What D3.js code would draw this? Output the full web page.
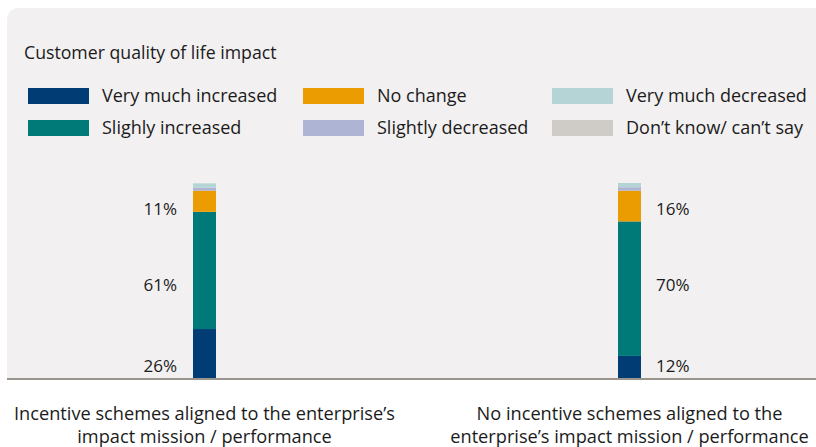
<!DOCTYPE html>
<html>
<head>
<meta charset="utf-8">
<script src="https://cdn.jsdelivr.net/npm/d3@7"></script>
<style>
  html, body { margin: 0; padding: 0; background: #ffffff; }
  svg { display: block; font-family: "Open Sans", "Lato", sans-serif; }
</style>
</head>
<body>
<svg id="chart" width="816" height="447"></svg>
<script>
// ---- data ----
const title = "Customer quality of life impact";
const categories = [
  ["Incentive schemes aligned to the enterprise\u2019s", "impact mission / performance"],
  ["No incentive schemes aligned to the", "enterprise\u2019s impact mission / performance"]
];
const seriesNames = ["Very much increased", "Slighly increased", "No change", "Slightly decreased", "Very much decreased", "Don\u2019t know/ can\u2019t say"];
const seriesColors = ["#023c74", "#007a78", "#eb9c00", "#aeb4d3", "#b4d4d6", "#cfccc8"];
const veryMuchIncreased = [26, 12];
const slightlyIncreased = [61, 70];
const noChange = [11, 16];
const slightlyDecreased = [1.6, 1.8];
const veryMuchDecreased = [2.2, 2.2];
const dontKnow = [0, 0];
const labelledSeries = [0, 1, 2];

// ---- drawing ----
const svg = d3.select("#chart");
const W = 816, H = 447;
const baseY = 379, topY = 183;

const seriesValues = [veryMuchIncreased, slightlyIncreased, noChange, slightlyDecreased, veryMuchDecreased, dontKnow];
const table = categories.map((c, i) => {
  const row = { key: i };
  seriesNames.forEach((s, j) => row[s] = seriesValues[j][i]);
  return row;
});
const stacked = d3.stack().keys(seriesNames)(table);

const y = d3.scaleLinear().domain([0, 102]).range([baseY, topY]);
const x = d3.scalePoint().domain(d3.range(categories.length)).range([204.5, 629.5]);
const barW = 23;
const color = d3.scaleOrdinal().domain(seriesNames).range(seriesColors);

// panel
const px = 7, py = 8, r = 13, pr = 830;
svg.append("path")
  .attr("d", `M${px},${baseY} L${px},${py + r} Q${px},${py} ${px + r},${py} L${pr},${py} L${pr},${baseY} Z`)
  .attr("fill", "#f2f0f1");

const txt = "#1b1b1b";

// title
svg.append("text").attr("x", 24).attr("y", 59)
  .attr("font-size", 17.7).attr("fill", txt).text(title);

// legend
const legCols = [28, 303, 552], legRows = [88, 120];
seriesNames.forEach((s, i) => {
  const cx = legCols[Math.floor(i / 2)], cy = legRows[i % 2];
  const g = svg.append("g").attr("transform", `translate(${cx},${cy})`);
  g.append("rect").attr("width", 61).attr("height", 16).attr("fill", color(s));
  g.append("text").attr("x", 74).attr("y", 8).attr("dy", "0.36em")
    .attr("font-size", 18).attr("fill", txt).text(s);
});

// bars
const layers = svg.append("g").selectAll("g").data(stacked).join("g")
  .attr("fill", d => color(d.key));
layers.selectAll("rect").data(d => d).join("rect")
  .attr("x", (d, i) => x(i) - barW / 2)
  .attr("width", barW)
  .attr("y", d => y(d[1]))
  .attr("height", d => y(d[0]) - y(d[1]));

// value labels (row-aligned at the mean segment centre of each series)
labelledSeries.forEach(si => {
  const rowY = y(d3.mean(stacked[si], d => (d[0] + d[1]) / 2)) + 5;
  stacked[si].forEach((d, i) => {
    const left = i === 0;
    svg.append("text")
      .attr("x", left ? x(i) - barW / 2 - 16 : x(i) + barW / 2 + 15)
      .attr("y", rowY)
      .attr("dy", "0.36em")
      .attr("text-anchor", left ? "end" : "start")
      .attr("font-size", 17).attr("fill", txt)
      .text(d3.format(".0f")(d.data[seriesNames[si]]) + "%");
  });
});

// baseline
svg.append("line").attr("x1", px).attr("x2", W).attr("y1", baseY).attr("y2", baseY)
  .attr("stroke", "#9a958c").attr("stroke-width", 2);

// category labels
categories.forEach((lines, i) => {
  const t = svg.append("text").attr("text-anchor", "middle")
    .attr("font-size", 18.2).attr("fill", txt);
  lines.forEach((l, k) => {
    t.append("tspan").attr("x", x(i)).attr("y", 420 + k * 23).text(l);
  });
});
</script>
</body>
</html>
